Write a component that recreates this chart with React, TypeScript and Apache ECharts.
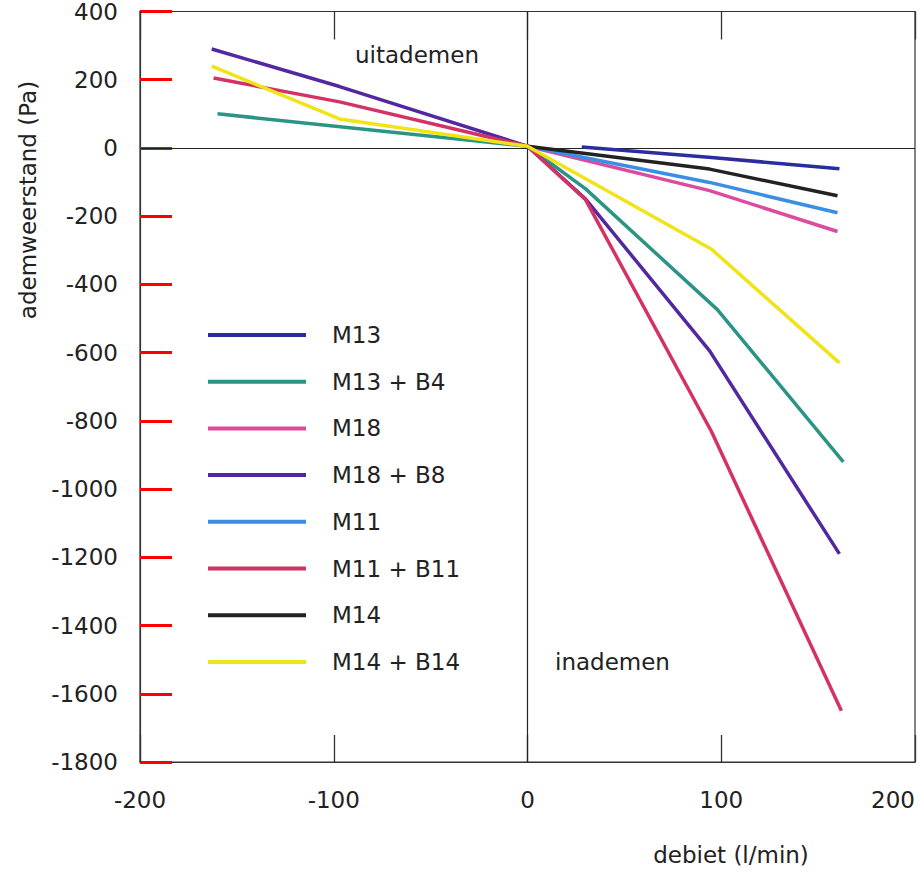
import React, { useEffect, useRef } from "react";
import * as echarts from "echarts";

// Flow (l/min) vs breathing resistance (Pa) per mask / mask + filter combination
const seriesNames = [
  "M13",
  "M13 + B4",
  "M18",
  "M18 + B8",
  "M11",
  "M11 + B11",
  "M14",
  "M14 + B14",
];

const m13 = [[28, 3], [95, -28], [161, -61]];
const m13b4 = [[-160, 100], [0, 5], [30, -120], [98, -474], [163, -920]];
const m18 = [[0, 5], [94, -125], [160, -245]];
const m18b8 = [[-163, 290], [-97, 180], [0, 5], [30, -150], [94, -595], [161, -1190]];
const m11 = [[0, 5], [94, -101], [160, -190]];
const m11b11 = [[-162, 205], [-97, 135], [0, 5], [30, -152], [95, -832], [162, -1650]];
const m14 = [[0, 5], [94, -62], [160, -140]];
const m14b14 = [[-163, 240], [-97, 85], [0, 5], [95, -297], [161, -630]];

const seriesData = [m13, m13b4, m18, m18b8, m11, m11b11, m14, m14b14];

const lineColors = [
  "#2b2c9e",
  "#2a9584",
  "#dc4c9e",
  "#5228a0",
  "#3a8ee4",
  "#d43264",
  "#222222",
  "#f0e418",
];

const xRange = [-200, 200];
const yRange = [-1800, 400];
const xStep = 100;
const yStep = 200;

const exhaleLabel = "uitademen";
const inhaleLabel = "inademen";
const xTitle = "debiet (l/min)";
const yTitle = "ademweerstand (Pa)";

const FONT = "DejaVu Sans";
const INK = "#222";
const SIZE = 23;

const plainNumber = (v: number) => String(v);

export default function App() {
  const ref = useRef<HTMLDivElement>(null);

  useEffect(() => {
    if (!ref.current) return;
    const chart = echarts.init(ref.current, null, { renderer: "svg" });

    const series: any[] = seriesNames.map((name, i) => ({
      name,
      type: "line",
      data: seriesData[i],
      symbol: "none",
      color: lineColors[i],
      lineStyle: { width: 3.5, color: lineColors[i] },
      z: 3,
    }));

    // zero lines across the plot
    series[0].markLine = {
      silent: true,
      symbol: ["none", "none"],
      label: { show: false },
      lineStyle: { color: INK, width: 1.2, type: "solid" },
      data: [{ yAxis: 0 }, { xAxis: 0 }],
      z: 2,
    };

    const frameLine = { color: "#333", width: 1.2 };
    const tickStyle = { color: "#333", width: 1.3 };

    const option: any = {
      animation: false,
      backgroundColor: "#ffffff",
      textStyle: { fontFamily: FONT },
      grid: {
        left: 140,
        right: 4,
        top: 11,
        bottom: 110,
        show: true,
        borderColor: "#333",
        borderWidth: 1.2,
      },
      xAxis: [
        {
          type: "value",
          min: xRange[0],
          max: xRange[1],
          interval: xStep,
          position: "bottom",
          axisLine: { show: true, onZero: false, lineStyle: frameLine },
          splitLine: { show: false },
          axisTick: { show: true, inside: true, length: 27, lineStyle: tickStyle },
          axisLabel: {
            fontFamily: FONT,
            fontSize: SIZE,
            color: INK,
            margin: 26,
            alignMaxLabel: "right",
            formatter: plainNumber,
          },
        },
        {
          type: "value",
          min: xRange[0],
          max: xRange[1],
          interval: xStep,
          position: "top",
          axisLine: { show: true, onZero: false, lineStyle: frameLine },
          splitLine: { show: false },
          axisTick: { show: true, inside: true, length: 28, lineStyle: tickStyle },
          axisLabel: { show: false },
        },
      ],
      yAxis: [
        {
          type: "value",
          min: yRange[0],
          max: yRange[1],
          interval: yStep,
          position: "left",
          axisLine: { show: true, onZero: false, lineStyle: frameLine },
          splitLine: { show: false },
          axisTick: { show: true, inside: true, length: 32, lineStyle: { color: "red", width: 3 } },
          axisLabel: { fontFamily: FONT, fontSize: SIZE, color: INK, margin: 22, formatter: plainNumber },
        },
      ],
      legend: {
        orient: "vertical",
        left: 203,
        top: 317,
        icon: "rect",
        itemWidth: 98,
        itemHeight: 4,
        itemGap: 20.7,
        data: seriesNames,
        textStyle: {
          fontFamily: FONT,
          fontSize: SIZE,
          color: INK,
          lineHeight: 26,
          padding: [0, 0, 0, 21],
        },
      },
      graphic: [
        {
          type: "text",
          x: 28,
          y: 200,
          rotation: Math.PI / 2,
          style: {
            text: yTitle,
            font: `${SIZE}px "${FONT}"`,
            fill: INK,
            align: "center",
            verticalAlign: "middle",
          },
        },
        {
          type: "text",
          x: 731,
          y: 855,
          style: {
            text: xTitle,
            font: `${SIZE}px "${FONT}"`,
            fill: INK,
            align: "center",
            verticalAlign: "middle",
          },
        },
        {
          type: "text",
          x: 355,
          y: 55,
          style: {
            text: exhaleLabel,
            font: `${SIZE}px "${FONT}"`,
            fill: INK,
            align: "left",
            verticalAlign: "middle",
          },
        },
        {
          type: "text",
          x: 555,
          y: 662,
          style: {
            text: inhaleLabel,
            font: `${SIZE}px "${FONT}"`,
            fill: INK,
            align: "left",
            verticalAlign: "middle",
          },
        },
      ],
      series,
    };

    chart.setOption(option);
    return () => chart.dispose();
  }, []);

  return (
    <div
      ref={ref}
      style={{ position: "fixed", left: 0, top: 0, width: 919, height: 872, background: "#fff" }}
    />
  );
}
